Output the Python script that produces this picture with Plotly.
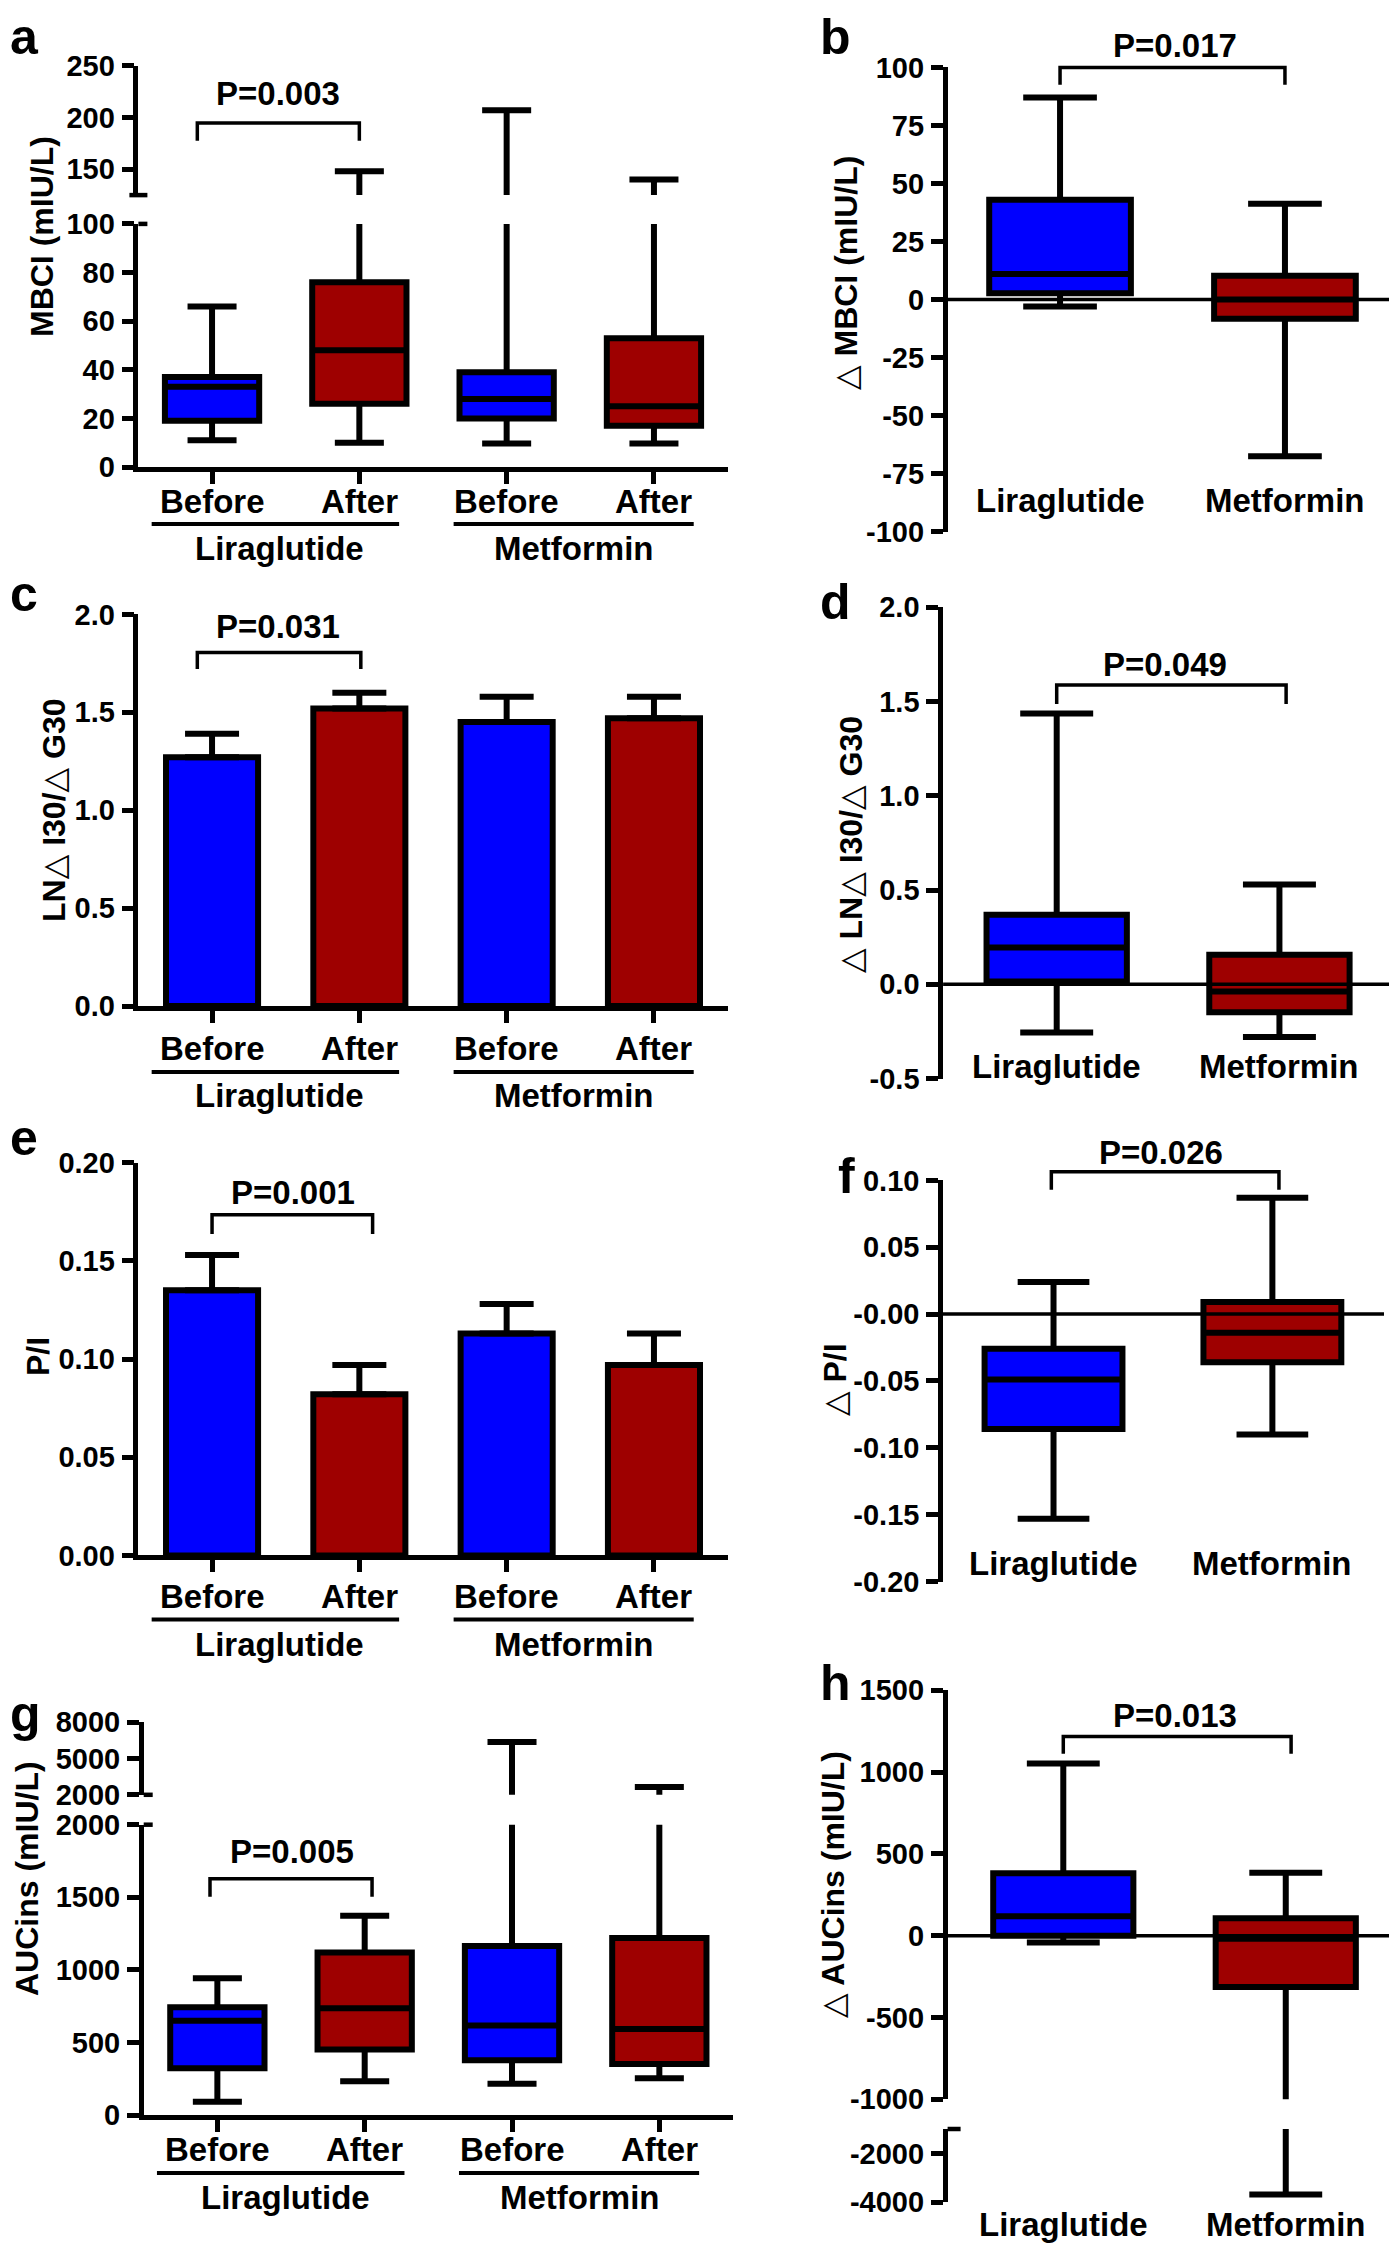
import plotly.graph_objects as go

W, H = 1397, 2244
FONT = "Liberation Sans, Arial, DejaVu Sans, sans-serif"
BLUE = "#0000ff"
RED = "#9e0000"
LW = 6.0      # box / bar outline
AXW = 4.5     # axis line width

# ---------------- data ----------------
groups = ["Liraglutide", "Metformin"]
phases = ["Before", "After", "Before", "After"]
col4 = [BLUE, RED, BLUE, RED]
col2 = [BLUE, RED]

# a  MBCI (mIU/L): box stats (min, Q1, median, Q3, max)
a_low = [11, 10, 9.7, 9.7]
a_q1 = [19, 26, 20, 17]
a_med = [33, 48, 28, 25]
a_q3 = [37, 76, 39, 53]
a_high = [66, 148, 207, 140]
a_p = "P=0.003"

# b  delta MBCI
b_low = [-3, -67.5]
b_q1 = [2.7, -8.3]
b_med = [11, 0]
b_q3 = [43, 10.2]
b_high = [87, 41.3]
b_p = "P=0.017"

# c  LN dI30/dG30 (mean, SEM)
c_mean = [1.27, 1.52, 1.45, 1.47]
c_sem = [0.12, 0.08, 0.13, 0.11]
c_p = "P=0.031"

# d  delta LN dI30/dG30
d_low = [-0.256, -0.28]
d_q1 = [0.015, -0.148]
d_med = [0.195, -0.038]
d_q3 = [0.369, 0.157]
d_high = [1.436, 0.53]
d_p = "P=0.049"

# e  P/I (mean, SEM)
e_mean = [0.135, 0.082, 0.113, 0.097]
e_sem = [0.018, 0.015, 0.015, 0.016]
e_p = "P=0.001"

# f  delta P/I
f_low = [-0.153, -0.090]
f_q1 = [-0.086, -0.036]
f_med = [-0.049, -0.014]
f_q3 = [-0.026, 0.009]
f_high = [0.024, 0.087]
f_p = "P=0.026"

# g  AUCins (mIU/L)
g_low = [92, 233, 216, 253]
g_q1 = [322, 451, 377, 352]
g_med = [649, 736, 617, 592]
g_q3 = [743, 1120, 1165, 1219]
g_high = [942, 1373, 6366, 2653]
g_p = "P=0.005"

# h  delta AUCins
h_low = [-42, -3685]
h_q1 = [0, -313]
h_med = [118, -19]
h_q3 = [381, 106]
h_high = [1052, 384]
h_p = "P=0.013"

# tick labels
a_ticks_low = [0, 20, 40, 60, 80, 100]
a_ticks_up = [150, 200, 250]
b_ticks = [-100, -75, -50, -25, 0, 25, 50, 75, 100]
c_ticks = [0.0, 0.5, 1.0, 1.5, 2.0]
c_ticktext = ["0.0", "0.5", "1.0", "1.5", "2.0"]
d_ticks = [-0.5, 0.0, 0.5, 1.0, 1.5, 2.0]
d_ticktext = ["-0.5", "0.0", "0.5", "1.0", "1.5", "2.0"]
e_ticks = [0.0, 0.05, 0.10, 0.15, 0.20]
e_ticktext = ["0.00", "0.05", "0.10", "0.15", "0.20"]
f_ticks = [-0.20, -0.15, -0.10, -0.05, 0.0, 0.05, 0.10]
f_ticktext = ["-0.20", "-0.15", "-0.10", "-0.05", "-0.00", "0.05", "0.10"]
g_ticks_low = [0, 500, 1000, 1500, 2000]
g_ticks_up = [2000, 5000, 8000]
h_ticks_up = [-1000, -500, 0, 500, 1000, 1500]
h_ticks_low = [-4000, -2000]

titles = {
    "a": "MBCI (mIU/L)",
    "b": "△ MBCI (mIU/L)",
    "c": "LN△ I30/△ G30",
    "d": "△ LN△ I30/△ G30",
    "e": "P/I",
    "f": "△ P/I",
    "g": "AUCins (mIU/L)",
    "h": "△ AUCins (mIU/L)",
}

# ---------------- styling ----------------
TICKFONT = dict(family=FONT, size=29, color="black", weight="bold")
CATFONT = dict(family=FONT, size=33, color="black", weight="bold")
PFONT = dict(family=FONT, size=33, color="black", weight="bold")
TITLEFONT = dict(family=FONT, size=32, color="black", weight="bold")
LETTERFONT = dict(family=FONT, size=50, color="black", weight="bold")

# column / global pixel offsets
OXL, OXR, OY = -8.0, -4.0, -9.0

fig = go.Figure()
layout = {}
shapes = []
annos = []


def dom_x(l, r, ox):
    return [(l + ox) / W, (r + ox) / W]


def dom_y(top, bot):
    return [1 - (bot + OY) / H, 1 - (top + OY) / H]


def akey(letter, n):
    return f"{letter}axis" if n == 1 else f"{letter}axis{n}"


def ref(letter, n):
    return letter if n == 1 else f"{letter}{n}"


def add_xaxis(n, l, r, ox, rng, anchor, visible):
    d = dict(domain=dom_x(l, r, ox), range=list(rng), anchor=anchor, showgrid=False,
             zeroline=False, fixedrange=True, showticklabels=False, automargin=False)
    if visible:
        d.update(showline=True, linewidth=AXW, linecolor="black", ticks="outside",
                 ticklen=12, tickwidth=AXW, tickcolor="black", tickvals=[0, 1, 2, 3])
    else:
        d.update(showline=False, ticks="")
    layout[akey("x", n)] = d


def add_yaxis(n, top, bot, rng, anchor, tickvals, ticktext=None):
    layout[akey("y", n)] = dict(
        domain=dom_y(top, bot), range=list(rng), anchor=anchor, showline=True,
        linewidth=AXW, linecolor="black", ticks="outside", ticklen=12, tickwidth=AXW,
        tickcolor="black", tickvals=tickvals,
        ticktext=ticktext if ticktext is not None else [str(v) for v in tickvals],
        tickfont=TICKFONT, showgrid=False, zeroline=False, fixedrange=True,
        ticklabelstandoff=1, automargin=False)


def add_boxes(xn, yns, lows, q1s, meds, q3s, highs, colors, width):
    for yn in yns:
        for i in range(len(lows)):
            fig.add_trace(go.Box(
                x=[i], lowerfence=[lows[i]], q1=[q1s[i]], median=[meds[i]], q3=[q3s[i]],
                upperfence=[highs[i]], orientation="v", fillcolor=colors[i],
                line=dict(color="black", width=LW), whiskerwidth=0.52, width=width,
                boxpoints=False, xaxis=ref("x", xn), yaxis=ref("y", yn),
                showlegend=False, hoverinfo="skip"))


def add_bars(xn, yn, means, sems, colors, width):
    fig.add_trace(go.Bar(
        x=list(range(len(means))), y=means, width=width,
        marker=dict(color=colors, line=dict(color="black", width=LW)),
        error_y=dict(type="data", symmetric=False, array=sems, arrayminus=[0] * len(sems),
                     color="black", thickness=LW, width=27),
        xaxis=ref("x", xn), yaxis=ref("y", yn), showlegend=False, hoverinfo="skip"))


def frac(v, rng):
    return (v - rng[0]) / (rng[1] - rng[0])


def add_bracket(xn, yn, rng, x0, x1, ytop, yleg, text, xtext, ytext):
    yr = ref("y", yn) + " domain"
    shapes.append(dict(
        type="path", xref=ref("x", xn), yref=yr,
        path=f"M {x0},{frac(yleg, rng)} L {x0},{frac(ytop, rng)} L {x1},{frac(ytop, rng)} L {x1},{frac(yleg, rng)}",
        line=dict(color="black", width=3.5)))
    annos.append(dict(xref=ref("x", xn), yref=yr, x=xtext, y=frac(ytext, rng), text=text,
                      showarrow=False, font=PFONT, xanchor="center", yanchor="middle"))


UNDER = [(-0.41, 1.27), (1.64, 3.27)]
GCENT = [0.46, 2.46]


def add_left_labels(xn, yn, dy_lab, dy_line, dy_grp):
    yr = ref("y", yn) + " domain"
    for i, t in enumerate(phases):
        annos.append(dict(xref=ref("x", xn), yref=yr, x=i, y=0, yshift=-dy_lab, text=t,
                          showarrow=False, font=CATFONT, xanchor="center", yanchor="middle"))
    for gname, (u0, u1), gc in zip(groups, UNDER, GCENT):
        shapes.append(dict(type="line", xref=ref("x", xn), yref=yr, x0=u0, x1=u1,
                           ysizemode="pixel", yanchor=0, y0=-dy_line, y1=-dy_line,
                           line=dict(color="black", width=4)))
        annos.append(dict(xref=ref("x", xn), yref=yr, x=gc, y=0, yshift=-dy_grp, text=gname,
                          showarrow=False, font=CATFONT, xanchor="center", yanchor="middle"))


def add_right_labels(xn, yn, dy):
    yr = ref("y", yn) + " domain"
    for i, gname in enumerate(groups):
        annos.append(dict(xref=ref("x", xn), yref=yr, x=i, y=0, yshift=dy, text=gname,
                          showarrow=False, font=CATFONT, xanchor="center", yanchor="middle"))


def add_zero(xn, yn):
    shapes.append(dict(type="line", xref=ref("x", xn) + " domain", x0=0, x1=1,
                       yref=ref("y", yn), y0=0, y1=0, line=dict(color="black", width=3.5)))


def add_mark(xn, yn, yfrac, left, right):
    shapes.append(dict(type="line", xref=ref("x", xn) + " domain", xsizemode="pixel", xanchor=0,
                       x0=-left, x1=right, yref=ref("y", yn) + " domain", y0=yfrac, y1=yfrac,
                       line=dict(color="black", width=AXW)))


def add_title(text, px, py, ox):
    annos.append(dict(xref="paper", yref="paper", x=(px + ox) / W, y=1 - (py + OY) / H,
                      text=text, textangle=-90, showarrow=False, font=TITLEFONT,
                      xanchor="center", yanchor="middle"))


def add_letter(text, px, py, top=False):
    a = dict(xref="paper", yref="paper", x=px / W, text=text, showarrow=False,
             font=LETTERFONT, xanchor="center")
    if top:
        a.update(y=1.0, yanchor="top", borderpad=0)
    else:
        a.update(y=1 - py / H, yanchor="middle")
    annos.append(a)


LBW = 0.64   # inner box width, 4-group panels
RBW = 0.63   # inner box width, 2-group panels
XR4 = (-0.5, 3.5)

# ---------- panel a ----------
a_rl, a_ru = (0, 100), (125, 250)
add_xaxis(1, 138.4, 727.6, OXL, XR4, "y", True)
add_yaxis(1, 224.9, 468.0, a_rl, "x", a_ticks_low)
add_yaxis(2, 66.6, 196.1, a_ru, "x", a_ticks_up)
add_boxes(1, [1, 2], a_low, a_q1, a_med, a_q3, a_high, col4, LBW)
add_bracket(1, 2, a_ru, -0.1, 1.0, 194.6, 177.5, a_p, 0.45, 223)
add_left_labels(1, 1, 34, 57, 81)
add_mark(1, 2, 0, 9, 9)
add_mark(1, 1, 1, 0, 9)
add_title(titles["a"], 42, 238, OXL)
add_letter("a", 16, 0, top=True)

# ---------- panel b ----------
b_r = (-100, 100)
add_xaxis(2, 943.6, 1393.4, OXR, (-0.5, 1.5), "y3", False)
add_yaxis(3, 68.4, 532.7, b_r, "x2", b_ticks)
add_boxes(2, [3], b_low, b_q1, b_med, b_q3, b_high, col2, RBW)
add_zero(2, 3)
add_bracket(2, 3, b_r, 0.0, 1.0, 100, 92.5, b_p, 0.51, 109.5)
add_right_labels(2, 3, 31.5)
add_title(titles["b"], 842, 274, OXR)
add_letter("b", 827, 0, top=True)

# ---------- panel c ----------
c_r = (0, 2)
add_xaxis(3, 138.4, 727.6, OXL, XR4, "y4", True)
add_yaxis(4, 615.4, 1007.1, c_r, "x3", c_ticks, c_ticktext)
add_bars(3, 4, c_mean, c_sem, col4, 0.625)
add_bracket(3, 4, c_r, -0.1, 1.01, 1.805, 1.721, c_p, 0.45, 1.936)
add_left_labels(3, 4, 42, 66, 89)
add_title(titles["c"], 54, 811, OXL)
add_letter("c", 16, 586)

# ---------- panel d ----------
d_r = (-0.5, 2.0)
add_xaxis(4, 939.1, 1386.8, OXR, (-0.51, 1.5), "y5", False)
add_yaxis(5, 608.2, 1079.6, d_r, "x4", d_ticks, d_ticktext)
add_boxes(4, [5], d_low, d_q1, d_med, d_q3, d_high, col2, RBW)
add_zero(4, 5)
add_bracket(4, 5, d_r, 0.0, 1.03, 1.587, 1.487, d_p, 0.484, 1.695)
add_right_labels(4, 5, 12.6)
add_title(titles["d"], 847, 845, OXR)
add_letter("d", 827, 594)

# ---------- panel e ----------
e_r = (0, 0.2)
add_xaxis(5, 138.4, 727.6, OXL, XR4, "y6", True)
add_yaxis(6, 1163.6, 1556.4, e_r, "x5", e_ticks, e_ticktext)
add_bars(5, 6, e_mean, e_sem, col4, 0.625)
add_bracket(5, 6, e_r, 0.0, 1.09, 0.1735, 0.1636, e_p, 0.55, 0.1849)
add_left_labels(5, 6, 41, 64, 89)
add_title(titles["e"], 38, 1358, OXL)
add_letter("e", 16, 1130)

# ---------- panel f ----------
f_r = (-0.2, 0.1)
add_xaxis(6, 939.0, 1380.0, OXR, (-0.505, 1.51), "y7", False)
add_yaxis(7, 1181.4, 1582.5, f_r, "x6", f_ticks, f_ticktext)
add_boxes(6, [7], f_low, f_q1, f_med, f_q3, f_high, col2, RBW)
add_zero(6, 7)
add_bracket(6, 7, f_r, -0.01, 1.03, 0.1064, 0.0931, f_p, 0.49, 0.1206)
add_right_labels(6, 7, 17.9)
add_title(titles["f"], 831, 1381, OXR)
add_letter("f", 838, 1168)

# ---------- panel g ----------
g_rl, g_ru = (0, 2000), (2000, 8000)
add_xaxis(7, 143.7, 733.0, OXL, XR4, "y8", True)
add_yaxis(8, 1825.7, 2116.0, g_rl, "x7", g_ticks_low)
add_yaxis(9, 1723.2, 1795.8, g_ru, "x7", g_ticks_up)
add_boxes(7, [8, 9], g_low, g_q1, g_med, g_q3, g_high, col4, LBW)
add_bracket(7, 8, g_rl, -0.05, 1.05, 1628, 1504, g_p, 0.506, 1814)
add_left_labels(7, 8, 34, 58, 82)
add_mark(7, 9, 0, 0, 9)
add_mark(7, 8, 1, 0, 9)
add_title(titles["g"], 27, 1880, OXL)
add_letter("g", 17, 1706)

# ---------- panel h ----------
h_ru, h_rl = (-1000, 1500), (-4000, -1000)
add_xaxis(8, 943.6, 1393.0, OXR, (-0.52, 1.5), "y10", False)
add_yaxis(10, 1691.2, 2100.3, h_ru, "x8", h_ticks_up)
add_yaxis(11, 2130.0, 2203.2, h_rl, "x8", h_ticks_low)
add_boxes(8, [10, 11], h_low, h_q1, h_med, h_q3, h_high, col2, RBW)
add_zero(8, 10)
add_bracket(8, 10, h_ru, 0.0, 1.024, 1217, 1111, h_p, 0.502, 1347)
add_right_labels(8, 11, -22.3)
add_mark(8, 11, 1, 0, 13)
add_title(titles["h"], 829, 1885, OXR)
add_letter("h", 827, 1675)

fig.update_layout(
    width=W, height=H, margin=dict(l=0, r=0, t=0, b=0, autoexpand=False),
    paper_bgcolor="white", plot_bgcolor="rgba(0,0,0,0)",
    showlegend=False, boxmode="overlay", barmode="overlay",
    shapes=shapes, annotations=annos, **layout)

fig.write_html("out.html")
